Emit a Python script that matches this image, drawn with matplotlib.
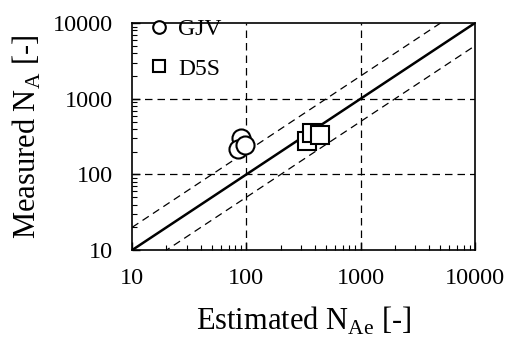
import numpy as np
import matplotlib
matplotlib.use('Agg')
import matplotlib.pyplot as plt
from matplotlib.ticker import LogLocator, NullFormatter, FixedLocator

plt.rcParams['font.family'] = 'Liberation Serif'
plt.rcParams['mathtext.fontset'] = 'custom'
plt.rcParams['mathtext.rm'] = 'Liberation Serif'

# data
gjv_est = [89, 85, 97]
gjv_meas = [306, 216, 244]
d5s_est = [338, 376, 441]
d5s_meas = [275, 357, 330]

ref = np.array([10, 10000])

fig = plt.figure(figsize=(5.1, 3.45), dpi=100)
ax = fig.add_axes([0.259, 0.275, 0.672, 0.658])

ax.plot(ref, ref, c='black', lw=1.8, zorder=2)
ax.plot(ref, ref * 2, c='black', lw=0.9, ls=(0, (6, 4)), zorder=2)
ax.plot(ref, ref / 2, c='black', lw=0.9, ls=(0, (6, 4)), zorder=2)

ax.plot(gjv_est, gjv_meas, 'o', ms=13, mfc='white', mec='black', mew=1.5,
        label='GJV', zorder=3)
ax.plot(d5s_est, d5s_meas, 's', ms=13, mfc='white', mec='black', mew=1.5,
        label='D5S', zorder=3)

ax.set_xscale('log')
ax.set_yscale('log')
ax.set_xlim(10, 10000)
ax.set_ylim(10, 10000)

for v in [100, 1000]:
    ax.axvline(v, c='black', lw=0.9, ls=(0, (6, 4)), zorder=1)
    ax.axhline(v, c='black', lw=0.9, ls=(0, (6, 4)), zorder=1)

ax.xaxis.set_major_locator(FixedLocator([10, 100, 1000, 10000]))
ax.yaxis.set_major_locator(FixedLocator([10, 100, 1000, 10000]))
ax.xaxis.set_major_formatter(matplotlib.ticker.FuncFormatter(lambda v, p: '%d' % v))
ax.yaxis.set_major_formatter(matplotlib.ticker.FuncFormatter(lambda v, p: '%d' % v))
ax.xaxis.set_minor_locator(LogLocator(base=10, subs=np.arange(2, 10)))
ax.yaxis.set_minor_locator(LogLocator(base=10, subs=np.arange(2, 10)))
ax.xaxis.set_minor_formatter(NullFormatter())
ax.yaxis.set_minor_formatter(NullFormatter())
ax.tick_params(which='major', direction='in', length=6, width=1, labelsize=17.5)
ax.tick_params(which='minor', direction='in', length=3.5, width=0.8)
ax.tick_params(axis='y', pad=14)
ax.tick_params(axis='x', pad=13)

for s in ax.spines.values():
    s.set_linewidth(1.2)

ax.set_xlabel(r'Estimated N$_\mathrm{Ae}$ [-]', fontsize=22, labelpad=11)
ax.set_ylabel(r'Measured N$_\mathrm{A}$ [-]', fontsize=22, labelpad=7)

ax.legend(loc='upper left', frameon=False, fontsize=17, handletextpad=0.35,
          borderaxespad=0.0, labelspacing=0.75, markerscale=0.7,
          handlelength=0.9, bbox_to_anchor=(0.02, 1.06))

fig.savefig('out.png', dpi=100)
